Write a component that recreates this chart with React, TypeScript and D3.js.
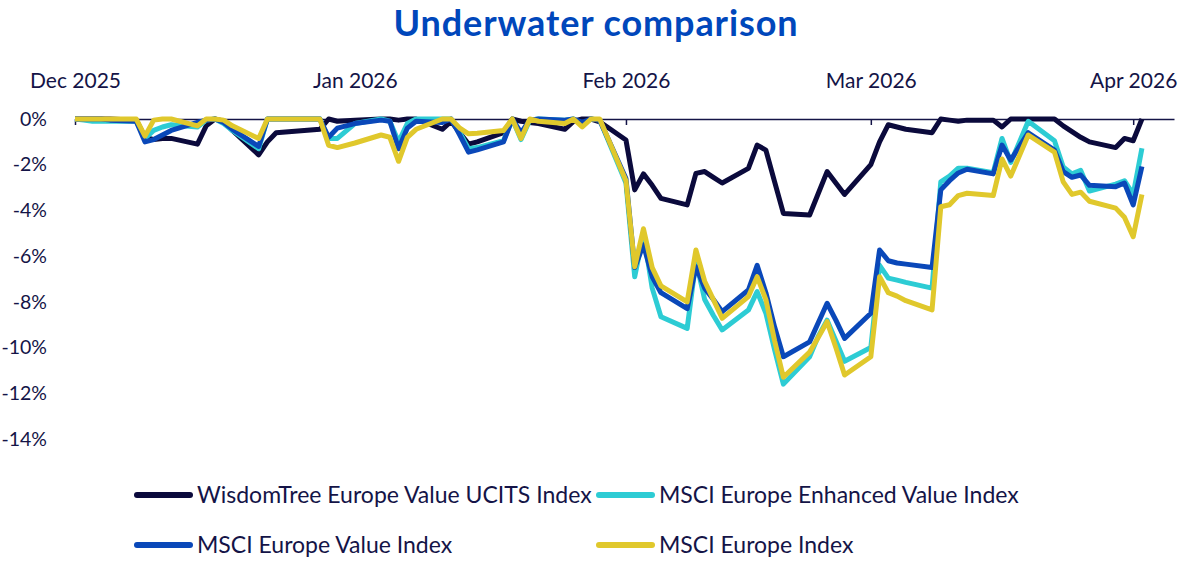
import React, { useEffect, useRef } from 'react';
import * as d3 from 'd3';

// trading days shown on the chart
const dates = [
  '2025-12-01', '2025-12-02', '2025-12-03', '2025-12-04', '2025-12-05',
  '2025-12-08', '2025-12-09', '2025-12-10', '2025-12-11', '2025-12-12',
  '2025-12-15', '2025-12-16', '2025-12-17', '2025-12-18', '2025-12-19',
  '2025-12-22', '2025-12-23', '2025-12-24', '2025-12-29', '2025-12-30', '2025-12-31',
  '2026-01-02', '2026-01-05', '2026-01-06', '2026-01-07', '2026-01-08', '2026-01-09',
  '2026-01-12', '2026-01-13', '2026-01-14', '2026-01-15', '2026-01-16',
  '2026-01-19', '2026-01-20', '2026-01-21', '2026-01-22', '2026-01-23',
  '2026-01-26', '2026-01-27', '2026-01-28', '2026-01-29', '2026-01-30',
  '2026-02-02', '2026-02-03', '2026-02-04', '2026-02-05', '2026-02-06',
  '2026-02-09', '2026-02-10', '2026-02-11', '2026-02-12', '2026-02-13',
  '2026-02-16', '2026-02-17', '2026-02-18', '2026-02-19', '2026-02-20',
  '2026-02-23', '2026-02-24', '2026-02-25', '2026-02-26', '2026-02-27',
  '2026-03-02', '2026-03-03', '2026-03-04', '2026-03-05', '2026-03-06',
  '2026-03-09', '2026-03-10', '2026-03-11', '2026-03-12', '2026-03-13',
  '2026-03-16', '2026-03-17', '2026-03-18', '2026-03-19', '2026-03-20',
  '2026-03-23', '2026-03-24', '2026-03-25', '2026-03-26', '2026-03-27',
  '2026-03-30', '2026-03-31', '2026-04-01', '2026-04-02',
];

// drawdown in %, one value per date
const wisdomTree = [
  0, 0, 0, 0, 0, -0.05, -0.8, -0.9, -0.85, -0.85,
  -1.1, -0.3, 0, -0.1, -0.5, -1.57, -1.0, -0.6, -0.45, 0, -0.1,
  -0.05, 0, 0, -0.05, 0, 0, -0.45, -0.1, -0.6, -1.1, -1.0,
  -0.6, 0, -0.1, -0.15, -0.2, -0.45, -0.1, 0, 0, -0.12,
  -0.92, -3.1, -2.4, -2.9, -3.47, -3.76, -2.38, -2.3, -2.55, -2.8,
  -2.16, -1.14, -1.36, -2.75, -4.13, -4.2, -3.25, -2.3, -2.8, -3.3,
  -2.0, -1.0, -0.25, -0.35, -0.45, -0.6, 0, -0.05, -0.1, -0.05,
  -0.05, -0.35, 0, 0, 0, 0, -0.3, -0.55, -0.8, -1.0,
  -1.25, -0.85, -0.95, 0,
];

const enhancedValue = [
  0, -0.05, -0.1, -0.1, -0.1, -0.1, -0.85, -0.5, -0.35, -0.25,
  -0.35, -0.05, 0, -0.2, -0.5, -1.3, 0, 0, 0, -0.85, -0.85,
  -0.2, 0, -0.1, -1.0, -0.2, 0, 0, 0, -0.6, -1.3, -1.25,
  -0.95, 0, -0.9, -0.05, 0, -0.05, 0, -0.25, 0, -0.05,
  -2.8, -6.9, -5.0, -7.4, -8.65, -9.16, -6.2, -7.9, -8.6, -9.23,
  -8.36, -7.55, -8.5, -10.1, -11.6, -10.4, -9.5, -8.8, -9.7, -10.6,
  -10.0, -6.4, -6.96, -7.05, -7.15, -7.4, -2.75, -2.5, -2.15, -2.15,
  -2.35, -0.85, -1.9, -1.0, -0.1, -0.95, -2.1, -2.4, -2.25, -3.15,
  -2.85, -2.7, -3.3, -1.28,
];

const europeValue = [
  0, 0, 0, 0, -0.05, -0.1, -1.0, -0.9, -0.7, -0.5,
  -0.15, -0.05, 0, -0.15, -0.45, -1.2, 0, 0, 0, -0.8, -0.4,
  -0.2, -0.05, -0.1, -1.3, -0.4, -0.1, -0.15, 0, -0.7, -1.45, -1.35,
  -1.0, 0, -0.6, -0.05, 0, -0.05, 0, -0.15, 0, -0.05,
  -2.6, -6.5, -5.5, -6.9, -7.6, -8.3, -6.46, -7.4, -7.9, -8.43,
  -7.48, -6.4, -7.6, -9.1, -10.4, -9.75, -8.9, -8.06, -8.8, -9.6,
  -8.5, -5.73, -6.2, -6.3, -6.35, -6.5, -3.1, -2.7, -2.36, -2.2,
  -2.4, -1.14, -1.8, -1.2, -0.6, -1.36, -2.3, -2.55, -2.45, -2.9,
  -2.96, -2.8, -3.76, -2.08,
];

const europe = [
  0, 0, 0, 0, 0, 0, -0.75, -0.05, 0, 0,
  -0.3, 0, 0, -0.05, -0.3, -0.85, 0, 0, 0, -1.15, -1.25,
  -1.05, -0.7, -0.8, -1.85, -0.8, -0.45, 0, 0, -0.4, -0.65, -0.62,
  -0.5, 0, -0.85, 0, -0.1, -0.2, 0, -0.35, 0, 0,
  -2.7, -6.46, -4.8, -6.5, -7.3, -8.0, -5.73, -7.1, -7.9, -8.72,
  -7.77, -6.9, -7.9, -9.7, -11.3, -10.2, -9.55, -8.87, -10.0, -11.2,
  -10.4, -6.9, -7.6, -7.75, -7.95, -8.35, -3.84, -3.75, -3.35, -3.25,
  -3.35, -1.75, -2.5, -1.6, -0.7, -1.45, -2.75, -3.3, -3.2, -3.6,
  -3.9, -4.3, -5.15, -3.3,
];

const seriesNames = [
  'WisdomTree Europe Value UCITS Index',
  'MSCI Europe Enhanced Value Index',
  'MSCI Europe Value Index',
  'MSCI Europe Index',
];
const seriesColors = ['#0b0a3c', '#2dccd4', '#0a48b9', '#e0c82c'];

const yTicks = [0, -2, -4, -6, -8, -10, -12, -14];
const monthTicks = ['2025-12-01', '2026-01-02', '2026-02-02', '2026-03-02', '2026-04-01'];

const W = 1200;
const H = 588;
const FONT = 'Lato, "Noto Sans", sans-serif';
const NAVY = '#141447';

const App: React.FC = () => {
  const svgRef = useRef<SVGSVGElement>(null);

  useEffect(() => {
    const svg = d3.select(svgRef.current);
    svg.selectAll('*').remove();

    const parse = d3.utcParse('%Y-%m-%d');
    const xDates = dates.map(d => parse(d)!);

    const x = d3.scaleUtc()
      .domain([parse('2025-12-01')!, new Date(Date.UTC(2026, 3, 5, 16))])
      .range([75, 1174]);

    const y = d3.scaleLinear()
      .domain([-14, 0])
      .range([439, 119]);

    // title
    svg.append('text')
      .attr('x', 596)
      .attr('y', 36)
      .attr('text-anchor', 'middle')
      .style('font-family', FONT)
      .style('font-size', '36px')
      .style('font-weight', 'bold')
      .style('letter-spacing', '0.9px')
      .style('fill', '#0047bb')
      .text('Underwater comparison');

    // month labels on top
    const top = svg.append('g')
      .attr('transform', 'translate(0,88)')
      .call(
        d3.axisTop(x)
          .tickValues(monthTicks.map(d => parse(d)!))
          .tickSize(0)
          .tickPadding(0)
          .tickFormat(d => d3.utcFormat('%b %Y')(d as Date))
      );
    top.select('.domain').remove();
    top.selectAll('text')
      .attr('dy', 0)
      .style('font-family', FONT)
      .style('font-size', '21px')
      .style('fill', NAVY);

    // zero line with month ticks
    const base = svg.append('g')
      .attr('transform', `translate(0,${y(0)})`)
      .call(
        d3.axisBottom(x)
          .tickValues(monthTicks.map(d => parse(d)!))
          .tickSize(6)
          .tickSizeOuter(0)
          .tickFormat(() => '')
      );
    base.select('.domain').attr('stroke', NAVY).attr('stroke-width', 1.5);
    base.selectAll('.tick line').attr('stroke', NAVY).attr('stroke-width', 1.5);

    // y labels
    const left = svg.append('g')
      .attr('transform', 'translate(50,0)')
      .call(
        d3.axisLeft(y)
          .tickValues(yTicks)
          .tickSize(0)
          .tickPadding(3)
          .tickFormat(d => `${d}%`)
      );
    left.select('.domain').remove();
    left.selectAll('text')
      .style('font-family', FONT)
      .style('font-size', '19.5px')
      .style('fill', NAVY);

    const allValues = [wisdomTree, enhancedValue, europeValue, europe];

    const line = d3.line<number>()
      .x((_, i) => x(xDates[i]))
      .y(d => y(d));

    allValues.forEach((vals, k) => {
      svg.append('path')
        .datum(vals)
        .attr('d', line)
        .attr('fill', 'none')
        .attr('stroke', seriesColors[k])
        .attr('stroke-width', 5)
        .attr('stroke-linejoin', 'round');
    });

    // legend
    const legendCols = [135, 597];
    const legendRows = [495, 545];
    seriesNames.forEach((name, k) => {
      const lx = legendCols[k % 2];
      const ly = legendRows[Math.floor(k / 2)];
      const g = svg.append('g').attr('transform', `translate(${lx},${ly})`);
      g.append('line')
        .attr('x1', 2).attr('x2', 55)
        .attr('y1', 0).attr('y2', 0)
        .attr('stroke', seriesColors[k])
        .attr('stroke-width', 6)
        .attr('stroke-linecap', 'round');
      g.append('text')
        .attr('x', 62)
        .attr('y', 8)
        .style('font-family', FONT)
        .style('font-size', '23px')
        .style('fill', NAVY)
        .text(name);
    });
  }, []);

  return (
    <div style={{ position: 'absolute', left: 0, top: 0, background: '#fff' }}>
      <svg ref={svgRef} width={W} height={H} style={{ display: 'block' }} />
    </div>
  );
};

export default App;
